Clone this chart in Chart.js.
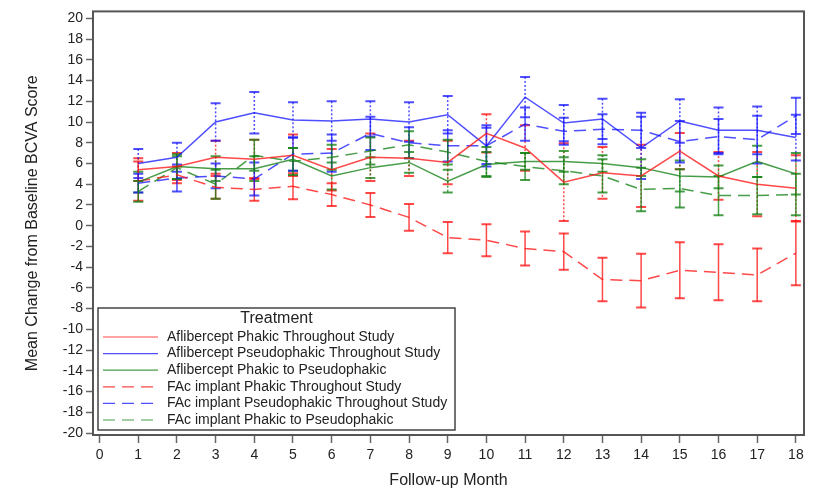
<!DOCTYPE html>
<html>
<head>
<meta charset="utf-8">
<script src="https://cdn.jsdelivr.net/npm/chart.js@4.4.1/dist/chart.umd.min.js"></script>
<style>
  body { margin: 0; background: #fff; }
  #wrap { width: 815px; height: 491px; position: relative; }
</style>
</head>
<body>
<div id="wrap"><canvas id="myChart"></canvas></div>
<script>
var months = [1, 2, 3, 4, 5, 6, 7, 8, 9, 10, 11, 12, 13, 14, 15, 16, 17, 18];
var xTicks = [0, 1, 2, 3, 4, 5, 6, 7, 8, 9, 10, 11, 12, 13, 14, 15, 16, 17, 18];
var yTicks = [-20, -18, -16, -14, -12, -10, -8, -6, -4, -2, 0, 2, 4, 6, 8, 10, 12, 14, 16, 18, 20];

var seriesNames = [
  'Aflibercept Phakic Throughout Study',
  'Aflibercept Pseudophakic Throughout Study',
  'Aflibercept Phakic to Pseudophakic',
  'FAc implant Phakic Throughout Study',
  'FAc implant Pseudophakic Throughout Study',
  'FAc implant Phakic to Pseudophakic'
];

// mean change and half width of the error bar, per month
var aflPhakic = [5.4, 5.7, 6.6, 6.4, 6.8, 5.4, 6.6, 6.5, 6.1, 8.9, 7.5, 4.2, 5.1, 4.8, 7.2, 4.8, 4.0, 3.6];
var aflPhakicErr = [1.1, 1.3, 1.6, 1.9, 2.0, 2.0, 2.3, 1.7, 2.1, 1.85, 2.2, 3.75, 2.5, 3.0, 1.75, 2.3, 3.1, 3.2];

var aflPseudo = [6.0, 6.6, 10.0, 10.9, 10.2, 10.1, 10.3, 10.0, 10.7, 7.7, 12.4, 9.9, 10.3, 7.5, 10.1, 9.2, 9.2, 8.5];
var aflPseudoErr = [1.4, 1.4, 1.8, 2.0, 1.7, 1.9, 1.7, 1.9, 1.8, 1.75, 1.95, 1.75, 1.95, 3.0, 2.1, 2.2, 2.3, 2.2];

var aflSwitch = [4.2, 5.7, 5.5, 5.5, 6.4, 4.8, 5.6, 6.1, 4.3, 5.9, 6.2, 6.2, 6.0, 5.6, 4.8, 4.7, 6.2, 5.0];
var aflSwitchErr = [1.0, 1.2, 1.2, 1.2, 1.1, 1.3, 1.0, 1.0, 1.1, 1.2, 0.8, 1.0, 0.8, 0.8, 1.5, 1.1, 1.5, 2.0];

var facPhakic = [4.3, 4.9, 3.7, 3.5, 3.8, 3.0, 2.0, 0.8, -1.15, -1.4, -2.2, -2.5, -5.2, -5.3, -4.3, -4.5, -4.75, -2.65];
var facPhakicErr = [1.9, 0.8, 1.1, 1.1, 1.25, 1.1, 1.15, 1.3, 1.5, 1.55, 1.65, 1.75, 2.1, 2.6, 2.7, 2.7, 2.55, 3.1];

var facPseudo = [4.1, 4.6, 4.8, 4.5, 6.9, 7.0, 8.9, 8.0, 7.7, 7.7, 9.8, 9.1, 9.3, 9.2, 8.1, 8.6, 8.3, 10.6];
var facPseudoErr = [0.9, 1.3, 1.2, 1.6, 1.6, 1.8, 1.6, 1.5, 1.5, 2.0, 1.6, 1.3, 1.45, 1.7, 2.0, 1.7, 2.3, 1.75];

var facSwitch = [3.3, 5.6, 4.0, 6.8, 6.2, 6.6, 7.2, 7.8, 7.1, 6.2, 5.7, 5.3, 4.8, 3.5, 3.6, 2.9, 2.9, 3.0];
var facSwitchErr = [1.0, 1.1, 1.4, 1.5, 1.3, 1.2, 1.3, 1.3, 1.2, 1.4, 1.3, 1.3, 1.6, 2.1, 1.85, 1.9, 1.8, 2.0];

var RED = 'rgba(255, 20, 20, 0.78)';
var BLUE = 'rgba(20, 20, 255, 0.75)';
var GREEN = 'rgba(20, 130, 20, 0.78)';
var FONT = '"Liberation Sans", Arial, sans-serif';

function pts(vals) {
  return months.map(function (m, i) { return { x: m, y: vals[i] }; });
}

function makeSet(i, vals, errs, color, dashed) {
  return {
    label: seriesNames[i],
    data: pts(vals),
    err: errs,
    borderColor: color,
    backgroundColor: color,
    borderWidth: 1.5,
    borderDash: dashed ? [12, 7] : [],
    pointRadius: 0,
    tension: 0,
    fill: false,
    dashedLine: dashed
  };
}

var errorBars = {
  id: 'errorBars',
  beforeDatasetsDraw: function (chart) {
    var ctx = chart.ctx;
    var ys = chart.scales.y;
    chart.data.datasets.forEach(function (ds, di) {
      var meta = chart.getDatasetMeta(di);
      ctx.save();
      ctx.strokeStyle = ds.borderColor;
      meta.data.forEach(function (pt, i) {
        var x = pt.x;
        var yTop = ys.getPixelForValue(ds.data[i].y + ds.err[i]);
        var yBot = ys.getPixelForValue(ds.data[i].y - ds.err[i]);
        // solid-line series get dotted bars, dashed series get solid bars
        ctx.lineWidth = 1.5;
        ctx.setLineDash(ds.dashedLine ? [] : [2, 2]);
        ctx.beginPath();
        ctx.moveTo(x, yTop);
        ctx.lineTo(x, yBot);
        ctx.stroke();
        ctx.setLineDash([]);
        ctx.lineWidth = 2;
        ctx.beginPath();
        ctx.moveTo(x - 5, yTop); ctx.lineTo(x + 5, yTop);
        ctx.moveTo(x - 5, yBot); ctx.lineTo(x + 5, yBot);
        ctx.stroke();
      });
      ctx.restore();
    });
  }
};

var frameAndLegend = {
  id: 'frameAndLegend',
  afterDraw: function (chart) {
    var ctx = chart.ctx;
    var a = chart.chartArea;
    ctx.save();
    ctx.strokeStyle = '#555';
    ctx.lineWidth = 2;
    ctx.strokeRect(a.left, a.top, a.right - a.left, a.bottom - a.top);

    // legend box
    var bx = a.left + 5, by = 308, bw = 357, bh = 122;
    ctx.fillStyle = '#fff';
    ctx.fillRect(bx, by, bw, bh);
    ctx.lineWidth = 1.5;
    ctx.strokeStyle = '#444';
    ctx.strokeRect(bx, by, bw, bh);
    ctx.fillStyle = '#222';
    ctx.font = '16px ' + FONT;
    ctx.textAlign = 'center';
    ctx.textBaseline = 'middle';
    ctx.fillText('Treatment', bx + bw / 2, by + 11);
    ctx.font = '14px ' + FONT;
    ctx.textAlign = 'left';
    chart.data.datasets.forEach(function (ds, i) {
      var y = by + 29 + i * 16.6;
      ctx.strokeStyle = ds.borderColor;
      ctx.lineWidth = 1.2;
      ctx.setLineDash(ds.dashedLine ? [12, 7] : []);
      ctx.beginPath();
      ctx.moveTo(bx + 5, y);
      ctx.lineTo(bx + 60, y);
      ctx.stroke();
      ctx.setLineDash([]);
      ctx.fillStyle = '#222';
      ctx.fillText(ds.label, bx + 69, y);
    });
    ctx.restore();
  }
};

var myChart = new Chart('myChart', {
  type: 'line',
  data: {
    datasets: [
      makeSet(0, aflPhakic, aflPhakicErr, RED, false),
      makeSet(1, aflPseudo, aflPseudoErr, BLUE, false),
      makeSet(2, aflSwitch, aflSwitchErr, GREEN, false),
      makeSet(3, facPhakic, facPhakicErr, RED, true),
      makeSet(4, facPseudo, facPseudoErr, BLUE, true),
      makeSet(5, facSwitch, facSwitchErr, GREEN, true)
    ]
  },
  options: {
    responsive: true,
    maintainAspectRatio: false,
    animation: false,
    layout: { padding: { top: 8, right: 11, left: 0, bottom: 0 } },
    plugins: {
      legend: { display: false },
      tooltip: { enabled: false }
    },
    scales: {
      x: {
        type: 'linear',
        min: -0.17,
        max: 18.21,
        afterBuildTicks: function (scale) {
          scale.ticks = xTicks.map(function (v) { return { value: v }; });
        },
        afterFit: function (scale) { scale.height = 56; },
        grid: { drawOnChartArea: false, tickLength: 8, tickColor: '#666', tickWidth: 1.5 },
        border: { display: false },
        ticks: { autoSkip: false, maxRotation: 0, padding: 4, color: '#222', font: { family: FONT, size: 14 } },
        title: { display: true, text: 'Follow-up Month', color: '#222', font: { family: FONT, size: 16 }, padding: { top: 0, bottom: 1 } }
      },
      y: {
        type: 'linear',
        min: -20.19,
        max: 20.67,
        afterBuildTicks: function (scale) {
          scale.ticks = yTicks.map(function (v) { return { value: v }; });
        },
        afterFit: function (scale) { scale.width = 93; },
        grid: { drawOnChartArea: false, tickLength: 7, tickColor: '#666', tickWidth: 1.5 },
        border: { display: false },
        ticks: { autoSkip: false, padding: 3, color: '#222', font: { family: FONT, size: 14 } },
        title: { display: true, text: 'Mean Change from Baseline BCVA Score', color: '#222', font: { family: FONT, size: 16 }, padding: { top: 23, bottom: 0 } }
      }
    }
  },
  plugins: [errorBars, frameAndLegend]
});
</script>
</body>
</html>
